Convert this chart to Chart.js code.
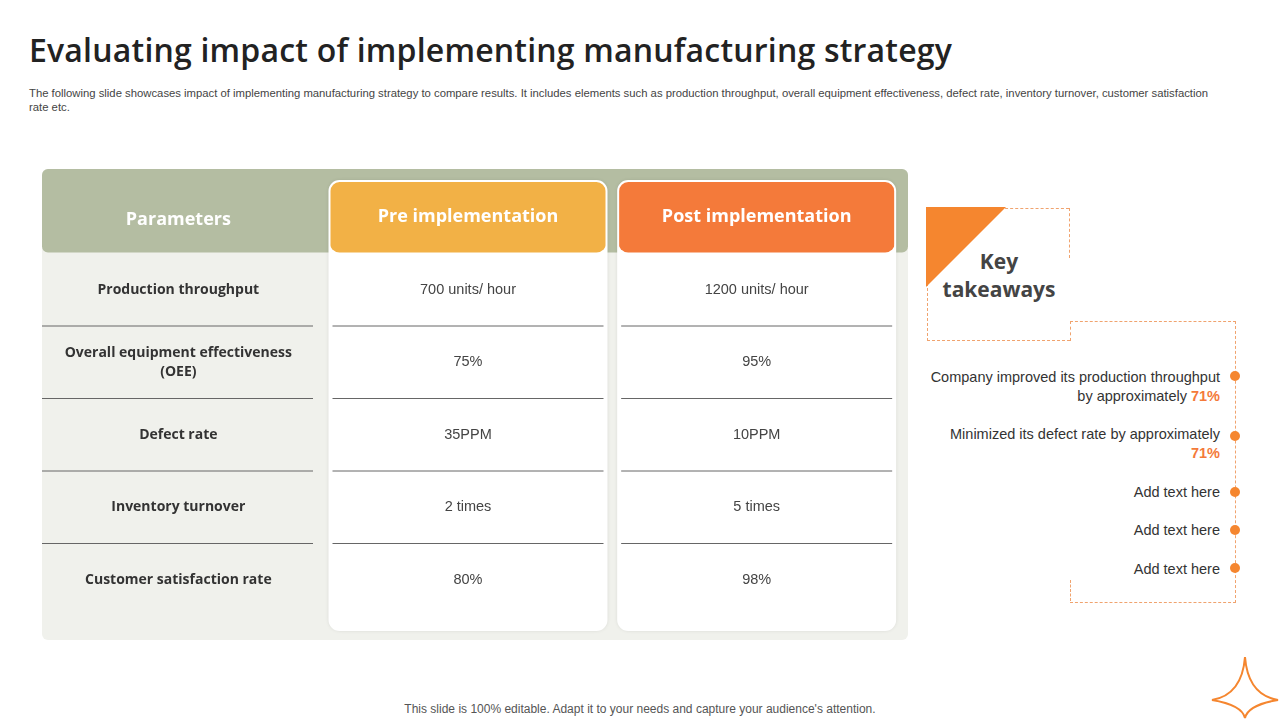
<!DOCTYPE html>
<html><head><meta charset="utf-8">
<script src="https://cdn.jsdelivr.net/npm/chart.js@4"></script>
<style>
body{margin:0;width:1280px;height:720px;background:#fff;font-family:"Liberation Sans",Arial,sans-serif;position:relative;overflow:hidden}
h1{position:absolute;left:29px;top:28px;margin:0;font:600 32px "Open Sans",sans-serif;color:#222;letter-spacing:0.2px}
.sub{position:absolute;left:29px;top:86px;width:1200px;font-size:11.3px;color:#444;line-height:14px}
#wrap{position:absolute;left:42px;top:169px;width:866px;height:471px}
.kt{position:absolute;left:927px;top:208px;width:142px;height:132px;border:1px dashed #f0a36e;border-right:none;border-top:none}
.seg{position:absolute;border-left:1px dashed #f0a36e}
.tri{position:absolute;left:926px;top:207px;width:0;height:0;border-top:80px solid #f5862f;border-right:80px solid transparent}
.ktt{position:absolute;left:940px;top:247px;width:118px;text-align:center;font:bold 21px "Open Sans",sans-serif;color:#444;line-height:28px}
.list{position:absolute;left:1070px;top:321px;width:165px;height:280px;border:1px dashed #f0a36e;border-left:none}
.it{position:absolute;right:60px;text-align:right;font-size:14.5px;color:#333;line-height:19px}
.it b{color:#f47a3a}
.dot{position:absolute;left:1230px;width:10px;height:10px;border-radius:50%;background:#f5862f}
.foot{position:absolute;left:0;width:1280px;top:702px;text-align:center;font-size:12px;color:#555}
</style></head><body>
<h1>Evaluating impact of implementing manufacturing strategy</h1>
<div class="sub">The following slide showcases impact of implementing manufacturing strategy to compare results. It includes elements such as production throughput, overall equipment effectiveness, defect rate, inventory turnover, customer satisfaction rate etc.</div>
<div id="wrap"><canvas id="c" width="866" height="471"></canvas></div>
<div class="kt"></div>
<div style="position:absolute;left:1000px;top:208px;width:69px;border-top:1px dashed #f0a36e"></div>
<div class="seg" style="left:1069px;top:208px;height:50px"></div>
<div class="tri"></div>
<div class="ktt">Key<br>takeaways</div>
<div class="list"></div>
<div class="seg" style="left:1070px;top:321px;height:20px"></div>
<div class="seg" style="left:1070px;top:580px;height:21px"></div>
<div class="it" style="top:368px">Company improved its production throughput<br>by approximately <b>71%</b></div>
<div class="it" style="top:425px">Minimized its defect rate by approximately<br><b>71%</b></div>
<div class="it" style="top:483px">Add text here</div>
<div class="it" style="top:521px">Add text here</div>
<div class="it" style="top:560px">Add text here</div>
<div class="dot" style="top:371px"></div><div class="dot" style="top:431px"></div><div class="dot" style="top:487px"></div><div class="dot" style="top:525px"></div><div class="dot" style="top:563px"></div>
<svg style="position:absolute;left:1210px;top:655px" width="70" height="65"><path d="M35 2 Q38 40 68 45 Q38 50 35 63 Q32 50 2 45 Q32 40 35 2Z" fill="none" stroke="#f5862f" stroke-width="2"/></svg>
<div class="foot">This slide is 100% editable. Adapt it to your needs and capture your audience's attention.</div>
<script>
const columns=['Parameters','Pre implementation','Post implementation'];
const rows=['header','Production throughput','Overall equipment effectiveness\n(OEE)','Defect rate','Inventory turnover','Customer satisfaction rate'];
const preValues=['700 units/ hour','75%','35PPM','2 times','80%'];
const postValues=['1200 units/ hour','95%','10PPM','5 times','98%'];
const headerColors=['#b4bda2','#f2b146','#f47a3a'];
const cellText=[rows.slice(1),preValues,postValues];
const datasets=columns.map((c,i)=>({label:c,data:rows.map(r=>({x:c,y:r})),pointRadius:0}));
const tablePlugin={id:'table',beforeDatasetsDraw(ch){
 const ctx=ch.ctx,x=ch.scales.x,y=ch.scales.y,W=ch.width,H=ch.height;
 const rowH=y.getPixelForValue(2)-y.getPixelForValue(1);
 const hb=y.getPixelForValue(0)+rowH/2-1;
 const rr=(X,Y,w,h,r,f)=>{ctx.beginPath();ctx.roundRect(X,Y,w,h,r);ctx.fillStyle=f;ctx.fill();};
 rr(0,0,W,H,6,'#f0f1ec');rr(0,0,W,hb,6,headerColors[0]);
 const colW=277;
 ctx.textAlign='center';ctx.textBaseline='middle';
 columns.forEach((c,i)=>{
  const cx=x.getPixelForValue(i)-(i===0?8:7);
  if(i>0){
   ctx.save();ctx.shadowColor='rgba(0,0,0,0.15)';ctx.shadowBlur=4;
   rr(cx-colW/2,12,colW,H-22,10,'#fff');ctx.restore();
   rr(cx-colW/2,12,colW,hb-12,10,headerColors[i]);
   ctx.strokeStyle='#fff';ctx.lineWidth=2;ctx.beginPath();ctx.roundRect(cx-colW/2,12,colW,H-22,10);ctx.stroke();
  }
  ctx.fillStyle='#fff';ctx.font='bold 18px "Open Sans",sans-serif';
  ctx.fillText(c,cx,i===0?51:48);
  const meta=ch.getDatasetMeta(i);
  for(let r=1;r<rows.length;r++){
   const py=meta.data[r].y;
   if(r<rows.length-1){ctx.strokeStyle='#666';ctx.lineWidth=1;ctx.beginPath();
    const sy=py+rowH/2;ctx.moveTo(i===0?0:cx-colW/2+3,sy);ctx.lineTo(i===0?271:cx+colW/2-3,sy);ctx.stroke();}
   const lines=cellText[i][r-1].split('\n');
   ctx.fillStyle=i===0?'#333':'#444';
   ctx.font=i===0?'bold 14px "Open Sans",sans-serif':'14.5px "Liberation Sans",sans-serif';
   lines.forEach((l,k)=>ctx.fillText(l,cx,py+(k-(lines.length-1)/2)*19));
  }
 });
}};
new Chart(document.getElementById('c'),{type:'scatter',data:{datasets},
 options:{responsive:false,animation:false,plugins:{legend:{display:false},tooltip:{enabled:false}},
 layout:{padding:{top:12,bottom:24}},
 scales:{x:{type:'category',labels:columns,offset:true,display:false},
 y:{type:'category',labels:rows,offset:true,display:false}}},
 plugins:[tablePlugin]});
</script>
</body></html>
